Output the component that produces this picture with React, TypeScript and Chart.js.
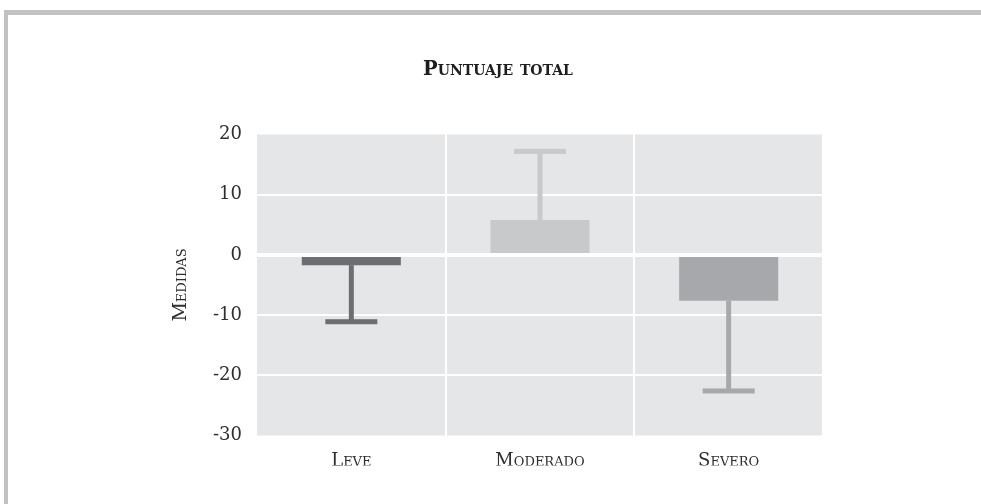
import React, { useEffect, useRef } from "react";
import { Chart, registerables } from "chart.js";

Chart.register(...registerables);

const categories = ["Leve", "Moderado", "Severo"];
const means = [-1.7, 5.8, -7.6];
const errorEnds = [-11.1, 17.2, -22.6];
const barColors = ["#6d6e71", "#c8c9cb", "#a7a8ab"];
const yTickValues = [20, 10, 0, -10, -20, -30];
const chartTitle = "Puntuaje total";
const yTitle = "Medidas";

const FONT = "'DejaVu Serif', serif";
const TEXT = "#2e2e2e";

const bgPlugin = {
  id: "plotBg",
  beforeDraw(chart: any) {
    const { ctx, chartArea } = chart;
    ctx.save();
    ctx.fillStyle = "#e5e6e8";
    ctx.fillRect(chartArea.left, chartArea.top, chartArea.right - chartArea.left, chartArea.bottom - chartArea.top);
    ctx.restore();
  },
};

const errorPlugin = {
  id: "errorBars",
  afterDatasetsDraw(chart: any) {
    const { ctx } = chart;
    const meta = chart.getDatasetMeta(0);
    const yScale = chart.scales.y;
    ctx.save();
    meta.data.forEach((bar: any, i: number) => {
      const end = yScale.getPixelForValue(errorEnds[i]);
      ctx.strokeStyle = barColors[i];
      ctx.fillStyle = barColors[i];
      ctx.lineWidth = 5;
      ctx.beginPath();
      ctx.moveTo(bar.x, bar.y);
      ctx.lineTo(bar.x, end);
      ctx.stroke();
      const capW = bar.width * 0.525;
      ctx.fillRect(bar.x - capW / 2, end - 2.5, capW, 5);
    });
    ctx.restore();
  },
};

const titlePlugin = {
  id: "smallCapsTitle",
  afterDraw(chart: any) {
    const { ctx } = chart;
    ctx.save();
    ctx.font = `small-caps bold 19.5px ${FONT}`;
    ctx.fillStyle = "#1e1e1e";
    ctx.textAlign = "center";
    ctx.textBaseline = "middle";
    ctx.fillText(chartTitle, 498, 70);
    ctx.restore();
  },
};

export default function App() {
  const ref = useRef<HTMLCanvasElement | null>(null);
  useEffect(() => {
    if (!ref.current) return;
    const chart = new Chart(ref.current, {
      type: "bar",
      data: {
        labels: categories,
        datasets: [
          {
            data: means,
            backgroundColor: barColors,
            barPercentage: 0.525,
            categoryPercentage: 1,
          },
        ],
      },
      options: {
        animation: false,
        responsive: false,
        layout: { padding: { left: 150, right: 158, top: 134.5, bottom: 38.5 } },
        plugins: { legend: { display: false }, tooltip: { enabled: false }, title: { display: false } },
        scales: {
          x: {
            afterFit(s: any) {
              s.height = 30;
            },
            border: { display: false },
            grid: {
              drawTicks: false,
              color: (c: any) => (c.index === 0 || c.index === categories.length ? "rgba(0,0,0,0)" : "#ffffff"),
              lineWidth: 2,
            },
            ticks: {
              padding: 15,
              color: TEXT,
              font: { family: FONT, size: 18, weight: "small-caps" as any },
            },
          },
          y: {
            min: -30,
            max: 20,
            afterFit(s: any) {
              s.width = 107;
            },
            afterBuildTicks(s: any) {
              s.ticks = yTickValues.slice().reverse().map((v) => ({ value: v }));
            },
            border: { display: false },
            grid: {
              drawTicks: false,
              color: (c: any) => (c.tick && (c.tick.value === 20 || c.tick.value === -30) ? "rgba(0,0,0,0)" : "#ffffff"),
              lineWidth: (c: any) => (c.tick && c.tick.value === 0 ? 4 : 2),
            },
            ticks: {
              padding: 15,
              color: TEXT,
              font: { family: FONT, size: 18 },
            },
            title: {
              display: true,
              text: yTitle,
              color: TEXT,
              padding: { top: 20, bottom: 0 },
              font: { family: FONT, size: 19, weight: "small-caps" as any, lineHeight: 1.2 },
            },
          },
        },
      },
      plugins: [bgPlugin, errorPlugin, titlePlugin],
    });
    return () => chart.destroy();
  }, []);
  return (
    <div style={{ position: "absolute", left: 0, top: 0, width: 981, height: 504, background: "#fff" }}>
      <div
        style={{
          position: "absolute",
          left: 4,
          top: 10,
          right: 0,
          bottom: 0,
          borderTop: "5px solid #c1c2c4",
          borderLeft: "4px solid #c1c2c4",
        }}
      />
      <canvas ref={ref} width={981} height={504} style={{ position: "absolute", left: 0, top: 0 }} />
    </div>
  );
}
